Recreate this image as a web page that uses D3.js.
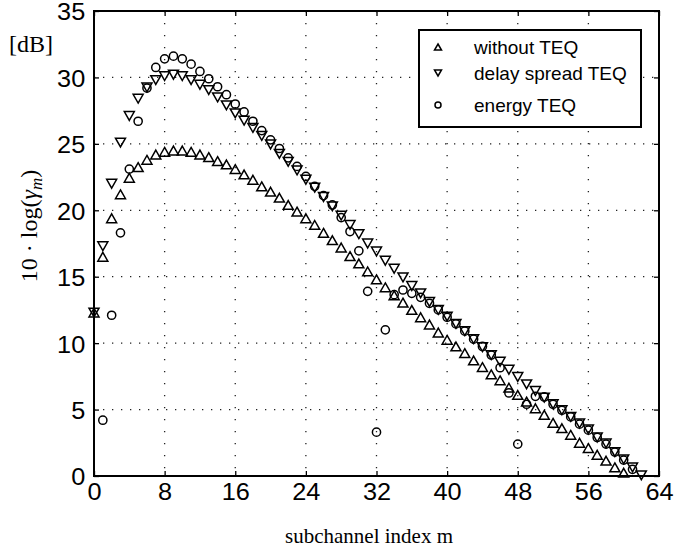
<!DOCTYPE html>
<html>
<head>
<meta charset="utf-8">
<script src="https://cdn.jsdelivr.net/npm/d3@7"></script>
<style>
  body { margin: 0; background: #fff; }
  svg { display: block; }
</style>
</head>
<body>
<svg id="chart" width="690" height="556"></svg>
<script>
// Subchannel SNR (dB) per subchannel index m, three equalizer settings
const subchannels = d3.range(0, 64);

const withoutTEQ = [
  12.3, 16.5, 19.4, 21.2, 22.45, 23.25, 23.8, 24.2, 24.4, 24.5,
  24.5, 24.4, 24.2, 24.0, 23.7, 23.45, 23.1, 22.7, 22.3, 21.8,
  21.4, 20.95, 20.4, 19.9, 19.4, 18.9, 18.3, 17.75, 17.2, 16.55,
  16.0, 15.4, 14.8, 14.2, 13.6, 13.05, 12.5, 11.95, 11.4, 10.8,
  10.25, 9.75, 9.25, 8.7, 8.2, 7.65, 7.2, 6.65, 6.1, 5.6,
  5.1, 4.6, 4.0, 3.6, 3.1, 2.5, 2.1, 1.6, 1.15, 0.65,
  0.25, null, null, null
];

const delaySpreadTEQ = [
  12.3, 17.3, 22.0, 25.1, 27.1, 28.4, 29.25, 29.8, 30.1, 30.2,
  30.1, 29.8, 29.45, 29.05, 28.5, 27.9, 27.3, 26.75, 26.2, 25.6,
  24.95, 24.25, 23.65, 23.0, 22.3, 21.7, 21.0, 20.3, 19.6, 18.9,
  18.2, 17.5, 16.9, 16.2, 15.6, 14.95, 14.3, 13.75, 13.1, 12.5,
  12.0, 11.45, 10.9, 10.3, 9.7, 9.1, 8.6, 8.0, 7.45, 6.9,
  6.4, 5.9, 5.4, 4.95, 4.45, 3.95, 3.5, 2.9, 2.45, 1.8,
  1.25, 0.65, 0.05, null
];

const energyTEQ = [
  null, 4.2, 12.1, 18.3, 23.1, 26.7, 29.2, 30.75, 31.4, 31.6,
  31.4, 31.0, 30.45, 29.9, 29.3, 28.7, 28.0, 27.4, 26.7, 26.0,
  25.3, 24.65, 23.95, 23.3, 22.55, 21.8, 21.1, 20.4, 19.45, 18.4,
  16.95, 13.9, 3.3, 11.0, 13.65, 14.0, 13.75, 13.45, 13.0, 12.5,
  11.95, 11.45, 10.9, 10.3, 9.75, 9.1, 8.15, 6.25, 2.4, 5.4,
  6.0, 5.95, 5.4, 4.95, 4.45, 3.9, 3.45, 2.9, 2.4, 1.8,
  1.2, 0.5, null, null
];

const xTickValues = [0, 8, 16, 24, 32, 40, 48, 56, 64];
const yTickValues = [0, 5, 10, 15, 20, 25, 30, 35];
const seriesNames = ["without TEQ", "delay spread TEQ", "energy TEQ"];
const seriesKinds = ["up", "down", "circle"];

const svg = d3.select("#chart");
const plot = { left: 94, right: 659, top: 11, bottom: 476 };

const x = d3.scaleLinear().domain([0, 64]).range([plot.left, plot.right]);
const y = d3.scaleLinear().domain([0, 35]).range([plot.bottom, plot.top]);

const sans = "'Liberation Sans', Arial, Helvetica, sans-serif";
const serif = "'Liberation Serif', 'Times New Roman', Times, serif";

// dotted grid
const grid = svg.append("g").attr("stroke", "#222").attr("stroke-width", 1.3);
grid.selectAll("line.vx")
  .data(xTickValues.filter(v => v > 0 && v < 64))
  .join("line")
  .attr("x1", d => x(d)).attr("x2", d => x(d))
  .attr("y1", plot.top).attr("y2", plot.bottom)
  .attr("stroke-dasharray", "1.3,10.7");
grid.selectAll("line.hy")
  .data(yTickValues.filter(v => v > 0 && v < 35))
  .join("line")
  .attr("x1", plot.left).attr("x2", plot.right)
  .attr("y1", d => y(d)).attr("y2", d => y(d))
  .attr("stroke-dasharray", "1.3,7.7");

// axes with inward ticks on all four sides
function styleAxis(g) {
  g.select(".domain").remove();
  g.selectAll(".tick line").attr("stroke", "#000").attr("stroke-width", 1.3);
  g.selectAll(".tick text")
    .attr("fill", "#000")
    .attr("transform", "scale(1.1,1)")
    .style("font-family", sans)
    .style("font-size", "23px");
}

svg.append("g")
  .attr("transform", `translate(0,${plot.bottom})`)
  .call(d3.axisBottom(x).tickValues(xTickValues).tickSizeInner(-5).tickSizeOuter(0).tickPadding(8))
  .call(styleAxis);

svg.append("g")
  .attr("transform", `translate(${plot.left},0)`)
  .call(d3.axisLeft(y).tickValues(yTickValues).tickSizeInner(-5).tickSizeOuter(0).tickPadding(8))
  .call(styleAxis)
  .call(g => g.selectAll(".tick text").attr("dy", "0.39em"));

svg.append("g")
  .attr("transform", `translate(0,${plot.top})`)
  .call(d3.axisTop(x).tickValues(xTickValues).tickSizeInner(-5).tickSizeOuter(0).tickFormat(""))
  .call(styleAxis);

svg.append("g")
  .attr("transform", `translate(${plot.right},0)`)
  .call(d3.axisRight(y).tickValues(yTickValues).tickSizeInner(-5).tickSizeOuter(0).tickFormat(""))
  .call(styleAxis);

// frame
svg.append("rect")
  .attr("x", plot.left).attr("y", plot.top)
  .attr("width", plot.right - plot.left).attr("height", plot.bottom - plot.top)
  .attr("fill", "none").attr("stroke", "#000").attr("stroke-width", 2);

// marker shapes
function markerPath(kind, w, h) {
  const hw = w / 2, hh = h / 2;
  if (kind === "up") return `M0,${-hh}L${hw},${hh}L${-hw},${hh}Z`;
  if (kind === "down") return `M0,${hh}L${hw},${-hh}L${-hw},${-hh}Z`;
  return null;
}

function drawSeries(values, kind) {
  const pts = subchannels
    .map((m, i) => ({ m, v: values[i] }))
    .filter(d => d.v !== null);
  const g = svg.append("g")
    .attr("fill", "none").attr("stroke", "#000").attr("stroke-width", 1.5);
  if (kind === "circle") {
    g.selectAll("circle").data(pts).join("circle")
      .attr("cx", d => x(d.m)).attr("cy", d => y(d.v)).attr("r", 4.1);
  } else {
    g.selectAll("path").data(pts).join("path")
      .attr("d", markerPath(kind, 10, 8.8))
      .attr("transform", d => `translate(${x(d.m)},${y(d.v)})`);
  }
}

drawSeries(withoutTEQ, "up");
drawSeries(delaySpreadTEQ, "down");
drawSeries(energyTEQ, "circle");

// legend
const legendBox = { x: 419, y: 30, w: 222, h: 97 };
const legendRows = [47, 73, 105];
const legend = svg.append("g");
legend.append("rect")
  .attr("x", legendBox.x).attr("y", legendBox.y)
  .attr("width", legendBox.w).attr("height", legendBox.h)
  .attr("fill", "#fff").attr("stroke", "#000").attr("stroke-width", 2);

seriesNames.forEach((name, i) => {
  const cy = legendRows[i];
  const kind = seriesKinds[i];
  if (kind === "circle") {
    legend.append("circle").attr("cx", 438).attr("cy", cy).attr("r", 3)
      .attr("fill", "none").attr("stroke", "#000").attr("stroke-width", 1.5);
  } else {
    legend.append("path").attr("d", markerPath(kind, 7, 6))
      .attr("transform", `translate(438,${cy})`)
      .attr("fill", "none").attr("stroke", "#000").attr("stroke-width", 1.5);
  }
  legend.append("text")
    .attr("x", 474).attr("y", cy).attr("dy", "0.35em")
    .style("font-family", sans).style("font-size", "19px")
    .text(name);
});

// axis titles
svg.append("text")
  .attr("x", 369).attr("y", 543)
  .attr("text-anchor", "middle")
  .style("font-family", serif).style("font-size", "21px")
  .text("subchannel index m");

svg.append("text")
  .attr("x", 9).attr("y", 52)
  .style("font-family", serif).style("font-size", "24px")
  .text("[dB]");

const ylab = svg.append("text")
  .attr("transform", "translate(37,226) rotate(-90)")
  .attr("text-anchor", "middle")
  .style("font-family", serif).style("font-size", "24px");
ylab.append("tspan").text("10 \u00b7 log(");
ylab.append("tspan").style("font-style", "italic").text("\u03b3");
ylab.append("tspan").style("font-style", "italic").style("font-size", "17px").attr("dy", 5).text("m");
ylab.append("tspan").attr("dy", -5).text(")");
</script>
</body>
</html>
